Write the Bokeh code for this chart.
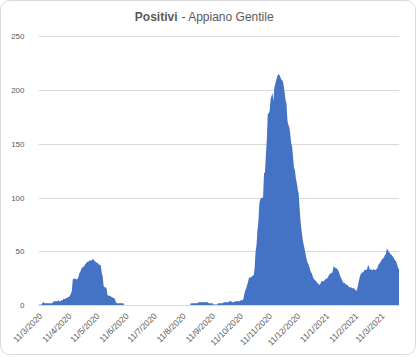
import numpy as np
import pandas as pd
from bokeh.plotting import figure
from bokeh.models import Range1d, FixedTicker, Label, ColumnDataSource
from bokeh.embed import file_html
from bokeh.resources import INLINE

# ---- data ----
start_date = "2020-03-09"
positivi = [
    # Mar-Jun 2020
    1, 1, 1, 1, 3, 3, 2, 2, 2, 2, 2, 2, 2, 2, 2,
    3, 4, 4, 4, 4, 4, 5, 4, 4, 5, 5, 6, 6, 6, 7, 7, 8, 8, 9, 11, 13,
    24, 25, 25, 25, 24, 25, 26, 30, 31, 34, 35, 36, 36, 38, 39, 40,
    41, 41, 42, 42, 42, 43, 43, 42, 41, 40, 40, 39, 38, 38, 37, 30, 27,
    18, 17, 17, 16, 10, 9, 9, 9, 8, 8, 7, 7, 6, 3, 2,
    2, 2, 2, 2, 2, 2, 2,
    # Jun-Aug 2020
    0, 0, 0, 0, 0, 0, 0, 0, 0, 0, 0, 0, 0, 0, 0, 0, 0, 0, 0, 0,
    0, 0, 0, 0, 0, 0, 0, 0, 0, 0, 0, 0, 0, 0, 0, 0, 0, 0, 0, 0,
    0, 0, 0, 0, 0, 0, 0, 0, 0, 0, 0, 0, 0, 0, 0, 0, 0, 0, 0, 0,
    0, 0, 0, 0, 0, 0, 0, 0, 0, 0, 0,
    # Aug-Oct 2020
    2, 2, 2, 2, 2, 2, 2, 2, 3, 3, 3, 3, 3, 3, 3, 3, 3,
    3, 3, 2, 2, 2, 2, 2, 1, 1, 1, 1, 1, 2, 2, 2, 2, 2, 2,
    3, 3, 3, 3, 3, 3, 4, 4, 4, 3, 3, 3, 4, 4, 4, 4, 4, 4, 5,
    5, 5, 6, 11, 14, 16, 19, 22, 26, 26, 26, 27, 28, 28, 35,
    # Oct-Dec 2020
    50, 56, 70, 78, 95, 99, 100, 100, 101, 123, 124, 140, 155,
    178, 179, 181, 192, 195, 198, 190, 203, 206, 210, 213,
    215, 215, 214, 211, 210, 209, 205, 198, 191, 188, 172,
    168, 166, 160, 151, 148, 138, 128, 126, 118, 114, 108, 104,
    90, 78, 70, 63, 58, 54, 49, 45, 41, 39, 37, 34, 31, 30, 27, 25,
    24, 23, 22, 21, 20, 19, 20, 22, 23, 22, 23, 24, 25, 25, 26,
    # Jan-Mar 2021
    28, 29, 30, 30, 31, 36, 36, 35, 35, 34, 33, 31, 28, 26, 24, 22,
    21, 21, 20, 19, 19, 18, 17, 17, 17, 16, 16, 16, 15, 14, 14,
    18, 22, 26, 29, 30, 31, 31, 33, 33, 33, 34, 38, 36,
    33, 34, 33, 33, 34, 33, 33, 34, 35, 38, 39, 40, 42, 43, 44, 45,
    47, 48, 53, 52, 50, 49, 48, 47, 46, 45, 43, 42, 41, 38, 35, 34,
]
tick_labels = ["11/3/2020", "11/4/2020", "11/5/2020", "11/6/2020", "11/7/2020",
               "11/8/2020", "11/9/2020", "11/10/2020", "11/11/2020", "11/12/2020",
               "11/1/2021", "11/2/2021", "11/3/2021"]
y_ticks = [0, 50, 100, 150, 200, 250]

# ---- build ----
t0 = pd.Timestamp(start_date)
day_idx = np.arange(len(positivi))
tick_pos = [int((pd.to_datetime(s, format="%d/%m/%Y") - t0).days) for s in tick_labels]

src = ColumnDataSource(dict(x=day_idx, v=positivi))

GRAY = "#595959"
p = figure(width=416, height=355, output_backend="svg", toolbar_location=None,
           x_range=Range1d(-0.5, len(positivi) - 0.5),
           y_range=Range1d(0, 276.5),
           min_border_left=37, min_border_right=18, min_border_top=7, min_border_bottom=51)
p.styles = {"border": "1px solid #d9d9d9", "border-radius": "10px", "overflow": "hidden"}
p.outline_line_color = None
p.background_fill_color = "white"
p.border_fill_color = "white"

p.varea(x="x", y1=0, y2="v", source=src, fill_color="#4472C4")

# axes
p.xaxis.ticker = FixedTicker(ticks=tick_pos)
p.xaxis.major_label_overrides = {tp: lab for tp, lab in zip(tick_pos, tick_labels)}
p.xaxis.major_label_orientation = np.pi / 4
p.xaxis.axis_line_color = "#d9d9d9"
p.xaxis.major_tick_line_color = None
p.xaxis.minor_tick_line_color = None
p.xaxis.major_label_text_color = GRAY
p.xaxis.major_label_text_font = "Liberation Sans"
p.xaxis.major_label_text_font_size = "8.5px"
p.xaxis.major_label_standoff = 3

p.yaxis.ticker = FixedTicker(ticks=y_ticks)
p.yaxis.axis_line_color = None
p.yaxis.major_tick_line_color = None
p.yaxis.minor_tick_line_color = None
p.yaxis.major_label_text_color = GRAY
p.yaxis.major_label_text_font = "Liberation Sans"
p.yaxis.major_label_text_font_size = "8px"
p.yaxis.major_label_standoff = 8

p.xgrid.grid_line_color = None
p.ygrid.ticker = FixedTicker(ticks=y_ticks)
p.ygrid.grid_line_color = "#d9d9d9"
p.ygrid.grid_line_width = 1

# title (bold part + regular part)
p.add_layout(Label(x=139, y=289, x_units="screen", y_units="screen", text="Positivi",
                   text_font="Liberation Sans", text_font_style="bold", text_font_size="12px",
                   text_color=GRAY, text_align="right", text_baseline="middle"))
p.add_layout(Label(x=143, y=289, x_units="screen", y_units="screen", text="- Appiano Gentile",
                   text_font="Liberation Sans", text_font_size="12px",
                   text_color=GRAY, text_align="left", text_baseline="middle"))

open("out.html", "w").write(file_html(p, INLINE))
